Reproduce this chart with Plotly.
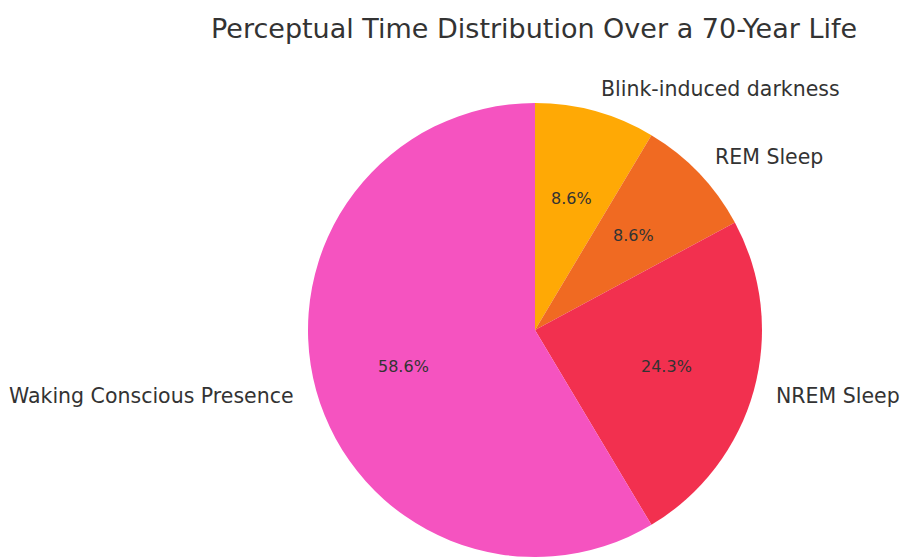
import math
import plotly.graph_objects as go

# Years of a 70-year life spent in each perceptual state
labels = ["Blink-induced darkness", "REM Sleep", "NREM Sleep", "Waking Conscious Presence"]
years = [6, 6, 17, 41]
colors = ["#FFA905", "#F06A22", "#F2304F", "#F553C0"]

W, H = 901, 557
CX, CY, R = 535, 330, 227  # pie centre and radius in pixels

fig = go.Figure(go.Pie(
    labels=labels,
    values=years,
    sort=False,
    direction="clockwise",
    rotation=0,
    marker=dict(colors=colors, line=dict(width=0)),
    textinfo="none",
    hoverinfo="label+percent",
    showlegend=False,
    domain=dict(x=[(CX - R) / W, (CX + R) / W],
                y=[(H - CY - R) / H, (H - CY + R) / H]),
))

total = sum(years)
annotations = []
start = 90.0
for lab, v in zip(labels, years):
    span = v / total * 360.0
    mid = math.radians(start - span / 2)
    start -= span
    pct = v / total * 100
    # percentage inside the wedge
    px = CX + 0.6 * R * math.cos(mid)
    py = CY - 0.6 * R * math.sin(mid)
    annotations.append(dict(
        x=px / W, y=1 - py / H, xref="paper", yref="paper",
        text=f"{pct:.1f}%", showarrow=False,
        xanchor="center", yanchor="middle",
        font=dict(family="DejaVu Sans", size=16, color="#333333"),
    ))
    # category label outside the wedge
    lx = CX + 1.1 * R * math.cos(mid)
    ly = CY - 1.1 * R * math.sin(mid)
    annotations.append(dict(
        x=lx / W, y=1 - ly / H, xref="paper", yref="paper",
        text=lab, showarrow=False,
        xanchor="left" if math.cos(mid) >= 0 else "right", yanchor="middle",
        xshift=-2 if math.cos(mid) >= 0 else 2,
        font=dict(family="DejaVu Sans", size=20.5, color="#333333"),
    ))

annotations.append(dict(
    x=534 / W, y=1 - 28 / H, xref="paper", yref="paper",
    text="Perceptual Time Distribution Over a 70-Year Life", showarrow=False,
    xanchor="center", yanchor="middle",
    font=dict(family="DejaVu Sans", size=27, color="#333333"),
))

fig.update_layout(
    width=W, height=H,
    margin=dict(l=0, r=0, t=0, b=0),
    paper_bgcolor="white",
    annotations=annotations,
)

fig.write_html("out.html")
